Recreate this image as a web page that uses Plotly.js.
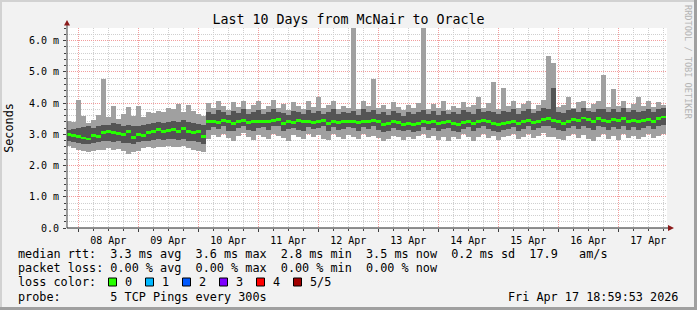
<!DOCTYPE html>
<html><head><meta charset="utf-8">
<script src="https://cdn.plot.ly/plotly-3.0.1.min.js"></script>
<style>html,body{margin:0;padding:0;background:#f2f2f2;overflow:hidden}#chart{width:697px;height:310px}</style>
</head><body><div id="chart"></div><script>
// ---- data (ms) ----
const chartTitle = 'Last 10 Days from McNair to Oracle';
const yTickVals = [0, 1, 2, 3, 4, 5, 6];
const yTickText = ['0.0', '1.0 m', '2.0 m', '3.0 m', '4.0 m', '5.0 m', '6.0 m'];
const dayTicks = ['2026-04-08','2026-04-09','2026-04-10','2026-04-11','2026-04-12','2026-04-13','2026-04-14','2026-04-15','2026-04-16','2026-04-17'];
const dayLabels = ['08 Apr','09 Apr','10 Apr','11 Apr','12 Apr','13 Apr','14 Apr','15 Apr','16 Apr','17 Apr'];
const firstSample = '2026-04-07 20:00';
const sampleHours = 2;

const med = [2.98,2.95,2.92,2.88,2.85,2.95,2.92,3.05,3.08,3.05,3.02,2.98,3.08,2.90,3.00,2.95,3.05,3.10,3.15,3.08,
3.12,3.15,3.10,3.18,3.10,3.05,3.08,2.92,3.40,3.42,3.38,3.45,3.40,3.35,3.42,3.45,3.38,3.40,3.40,3.42,
3.40,3.45,3.48,3.35,3.42,3.38,3.45,3.40,3.42,3.38,3.40,3.45,3.35,3.42,3.38,3.40,3.42,3.40,3.38,3.42,
3.40,3.45,3.40,3.30,3.35,3.42,3.38,3.32,3.35,3.30,3.35,3.42,3.38,3.40,3.35,3.38,3.42,3.35,3.30,3.38,
3.40,3.35,3.42,3.45,3.40,3.35,3.30,3.35,3.38,3.42,3.35,3.40,3.45,3.38,3.42,3.48,3.50,3.45,3.40,3.35,
3.42,3.48,3.45,3.52,3.48,3.42,3.50,3.45,3.42,3.48,3.45,3.50,3.42,3.45,3.40,3.45,3.48,3.42,3.50,3.55];
const q1 = [2.78,2.75,2.72,2.70,2.68,2.72,2.75,2.78,2.80,2.76,2.78,2.72,2.72,2.70,2.75,2.78,2.80,2.82,2.85,2.82,
2.85,2.84,2.82,2.86,2.80,2.78,2.75,2.70,3.15,3.22,3.18,3.25,3.12,3.10,3.20,3.26,3.15,3.12,3.20,3.24,
3.15,3.25,3.28,3.12,3.18,3.20,3.15,3.10,3.22,3.18,3.20,3.25,3.10,3.22,3.15,3.18,3.24,3.20,3.12,3.22,
3.18,3.25,3.15,3.08,3.12,3.20,3.15,3.10,3.15,3.08,3.12,3.22,3.15,3.20,3.10,3.18,3.20,3.12,3.08,3.18,
3.22,3.10,3.20,3.25,3.18,3.12,3.06,3.15,3.18,3.24,3.12,3.18,3.25,3.15,3.20,3.28,3.25,3.20,3.15,3.12,
3.20,3.26,3.18,3.28,3.20,3.15,3.26,3.22,3.15,3.22,3.18,3.28,3.15,3.22,3.15,3.20,3.26,3.18,3.25,3.30];
const q3 = [3.15,3.18,3.20,3.22,3.25,3.20,3.28,3.30,3.30,3.35,3.32,3.28,3.30,3.25,3.28,3.30,3.32,3.35,3.38,3.35,
3.40,3.42,3.38,3.45,3.40,3.35,3.32,3.30,3.70,3.65,3.78,3.72,3.62,3.75,3.68,3.80,3.66,3.72,3.78,3.64,
3.70,3.82,3.72,3.68,3.62,3.76,3.70,3.64,3.78,3.68,3.75,3.66,3.70,3.80,3.64,3.72,3.68,3.76,3.62,3.80,
3.70,3.78,3.66,3.72,3.62,3.76,3.68,3.60,3.70,3.64,3.72,3.78,3.65,3.74,3.62,3.75,3.66,3.72,3.64,3.78,
3.70,3.66,3.80,3.70,3.76,3.72,3.64,3.74,3.70,3.80,3.66,3.74,3.80,3.68,3.76,3.84,3.82,4.47,3.72,3.68,
3.78,3.82,3.72,3.85,3.76,3.70,3.82,3.80,3.72,3.80,3.70,3.84,3.72,3.78,3.70,3.76,3.82,3.72,3.80,3.85];
const lo = [2.62,2.55,2.50,2.45,2.42,2.48,2.50,2.50,2.55,2.50,2.52,2.45,2.38,2.42,2.48,2.55,2.58,2.55,2.60,2.58,
2.62,2.60,2.58,2.62,2.55,2.50,2.48,2.42,2.85,2.98,2.90,3.02,2.88,2.80,2.95,3.05,2.90,2.82,2.98,2.92,
2.85,3.02,2.95,2.88,2.80,2.98,2.90,2.85,3.00,2.92,2.98,2.85,2.82,3.00,2.90,2.86,2.98,2.92,2.84,3.02,
2.90,2.95,2.88,2.80,2.86,2.95,2.90,2.82,2.92,2.85,2.95,3.00,2.88,2.95,2.82,2.90,2.78,2.92,2.85,3.00,
2.90,2.80,2.92,3.02,2.88,2.95,2.82,2.90,2.95,3.02,2.85,2.92,3.00,2.88,2.95,3.05,2.92,2.90,2.85,2.82,
2.95,3.00,2.88,2.98,2.85,2.80,2.92,3.00,2.86,2.95,2.82,3.00,2.88,2.95,2.85,2.92,3.02,2.88,2.95,3.00];
const hi = [3.42,3.38,4.10,3.60,3.35,3.45,3.62,4.78,3.55,3.90,3.50,3.65,3.88,3.60,3.92,3.55,3.70,3.68,3.75,3.72,
3.85,3.80,3.98,3.72,3.95,3.75,3.65,3.60,4.00,3.85,4.05,3.90,3.78,4.02,3.88,4.08,3.82,3.95,4.05,3.80,
3.92,4.10,3.85,3.98,3.78,4.02,3.90,3.82,4.05,3.88,4.20,3.85,3.95,4.06,3.80,3.92,3.85,6.50,3.82,4.08,
3.90,4.78,3.85,3.95,3.80,4.02,3.88,3.78,3.95,3.85,4.00,6.50,3.82,3.98,3.85,4.05,3.78,3.92,3.85,4.02,
3.88,3.95,4.20,3.85,4.00,4.67,3.82,4.47,3.90,4.08,3.85,3.98,4.05,3.82,3.95,4.10,5.50,5.27,3.88,3.95,
4.20,3.85,4.02,4.08,3.85,3.98,4.05,4.90,3.88,4.44,3.92,4.05,3.85,3.98,4.20,3.90,4.05,3.88,4.02,3.95];

const legendRows = [
  'median rtt:  3.3 ms avg  3.6 ms max  2.8 ms min  3.5 ms now  0.2 ms sd  17.9   am/s',
  'packet loss: 0.00 % avg  0.00 % max  0.00 % min  0.00 % now',
  'loss color:',
  'probe:       5 TCP Pings every 300s'
];
const lossLabels = ['0', '1', '2', '3', '4', '5/5'];
const lossColors = ['#26ff00', '#00b8ff', '#0059ff', '#7e00ff', '#ff0000', '#a10000'];
const stampText = 'Fri Apr 17 18:59:53 2026';
const watermark = 'RRDTOOL / TOBI OETIKER';

// ---- build ----
function pad(n){return String(n).padStart(2,'0');}
const t0 = new Date(firstSample.replace(' ','T') + ':00Z').getTime();
const times = med.map((_, i) => {
  const d = new Date(t0 + i * sampleHours * 3600000);
  return d.getUTCFullYear()+'-'+pad(d.getUTCMonth()+1)+'-'+pad(d.getUTCDate())+' '+pad(d.getUTCHours())+':'+pad(d.getUTCMinutes());
});

const L = 67, T = 28, W = 600, H = 200;
const xp = px => (px - L) / W;
const yp = py => (T + H - py) / H;
const mono = 'DejaVu Sans Mono, monospace';
const nb = s => s.replace(/ /g, '\u00a0');
const medHalf = 0.045;

const traces = [
  {type:'bar', x:times, base:lo, y:hi.map((v,i)=>v-lo[i]), marker:{color:'#a0a0a0', line:{width:0}}, hoverinfo:'skip', showlegend:false},
  {type:'bar', x:times, base:q1, y:q3.map((v,i)=>v-q1[i]), marker:{color:'#545454', line:{width:0}}, hoverinfo:'skip', showlegend:false},
  {type:'bar', x:times, base:med.map(v=>v-medHalf), y:med.map(()=>2*medHalf), marker:{color:lossColors[0], line:{width:0}}, hoverinfo:'skip', showlegend:false}
];

const shapes = [];
const annotations = [];
// frame bevel
shapes.push({type:'rect', xref:'paper', yref:'paper', x0:xp(0), x1:xp(697), y0:yp(0), y1:yp(2), fillcolor:'#d2d2d2', line:{width:0}});
shapes.push({type:'rect', xref:'paper', yref:'paper', x0:xp(0), x1:xp(2), y0:yp(0), y1:yp(310), fillcolor:'#d2d2d2', line:{width:0}});
shapes.push({type:'rect', xref:'paper', yref:'paper', x0:xp(0), x1:xp(697), y0:yp(307), y1:yp(310), fillcolor:'#a0a0a0', line:{width:0}});
shapes.push({type:'rect', xref:'paper', yref:'paper', x0:xp(694), x1:xp(697), y0:yp(0), y1:yp(310), fillcolor:'#a0a0a0', line:{width:0}});
// axis lines with arrows
shapes.push({type:'line', xref:'paper', yref:'paper', x0:xp(67), x1:xp(67), y0:yp(228), y1:yp(24), line:{color:'#404040', width:1}});
shapes.push({type:'line', xref:'paper', yref:'paper', x0:xp(67), x1:xp(670), y0:yp(228), y1:yp(228), line:{color:'#202020', width:1}});
shapes.push({type:'path', xref:'paper', yref:'paper', path:`M${xp(64)},${yp(25.5)} L${xp(70)},${yp(25.5)} L${xp(67)},${yp(20)} Z`, fillcolor:'#8b1a1a', line:{width:0}});
shapes.push({type:'path', xref:'paper', yref:'paper', path:`M${xp(668)},${yp(225)} L${xp(668)},${yp(231)} L${xp(674)},${yp(228)} Z`, fillcolor:'#8b1a1a', line:{width:0}});

// legend text rows
const rowY = [254, 268, 282, 296.5];
legendRows.forEach((txt, i) => {
  annotations.push({xref:'paper', yref:'paper', x:xp(16), y:yp(rowY[i]), xanchor:'left', yanchor:'middle', showarrow:false, text:nb(txt), font:{family:mono, size:11.8, color:'#000'}});
});
// loss color boxes
lossLabels.forEach((lab, i) => {
  const bx = 108.5 + i * 37;
  shapes.push({type:'rect', xref:'paper', yref:'paper', x0:xp(bx), x1:xp(bx+8), y0:yp(278), y1:yp(286), fillcolor:lossColors[i], line:{color:'#000', width:1}});
  annotations.push({xref:'paper', yref:'paper', x:xp(bx+14), y:yp(rowY[2]), xanchor:'left', yanchor:'middle', showarrow:false, text:lab, font:{family:mono, size:11.8, color:'#000'}});
});
annotations.push({xref:'paper', yref:'paper', x:xp(680), y:yp(rowY[3]), xanchor:'right', yanchor:'middle', showarrow:false, text:nb(stampText), font:{family:mono, size:11.8, color:'#000'}});
annotations.push({xref:'paper', yref:'paper', x:xp(688), y:yp(62), xanchor:'center', yanchor:'middle', showarrow:false, textangle:90, text:nb(watermark), font:{family:mono, size:8.6, color:'#b4b4b4'}});

const redGrid = '#f29c9c', grayGrid = '#cfcfcf';
const layout = {
  width:697, height:310,
  margin:{l:L, r:697-L-W, t:T, b:310-T-H, pad:0},
  paper_bgcolor:'#f2f2f2', plot_bgcolor:'#ffffff',
  font:{family:mono, size:10, color:'#000'},
  title:{text:chartTitle, font:{family:mono, size:13.3, color:'#000'}, x:0.5, xref:'container', y:1-19/310, yref:'container', xanchor:'center', yanchor:'middle'},
  barmode:'overlay', bargap:0, showlegend:false,
  xaxis:{type:'date', range:['2026-04-07 19:29','2026-04-17 19:29'], tickmode:'array', tickvals:dayTicks, ticktext:dayLabels,
    ticklabelshift:30, ticks:'outside', ticklen:3, tickcolor:'#404040', showline:false, zeroline:false,
    showgrid:true, gridcolor:redGrid, griddash:'1px,1px', gridwidth:1, tickfont:{family:mono, size:10, color:'#000'},
    minor:{tickmode:'linear', tick0:'2026-04-08', dtick:6*3600000, showgrid:true, gridcolor:grayGrid, griddash:'1px,1px', ticks:'outside', ticklen:2, tickcolor:'#404040'},
    fixedrange:true},
  yaxis:{range:[0, 6.4], tickmode:'array', tickvals:yTickVals, ticktext:yTickText, ticks:'outside', ticklen:3, tickcolor:'#404040',
    showline:false, zeroline:false, showgrid:true, gridcolor:redGrid, griddash:'1px,1px', gridwidth:1,
    tickfont:{family:mono, size:10, color:'#000'}, ticklabelstandoff:2,
    minor:{tickmode:'linear', tick0:0, dtick:0.2, showgrid:true, gridcolor:grayGrid, griddash:'1px,1px', ticks:'outside', ticklen:2, tickcolor:'#404040'},
    title:{text:'Seconds', font:{family:mono, size:11.8, color:'#000'}, standoff:12}, automargin:false, fixedrange:true},
  shapes:shapes, annotations:annotations
};
Plotly.newPlot('chart', traces, layout, {staticPlot:true, displayModeBar:false});
</script></body></html>
